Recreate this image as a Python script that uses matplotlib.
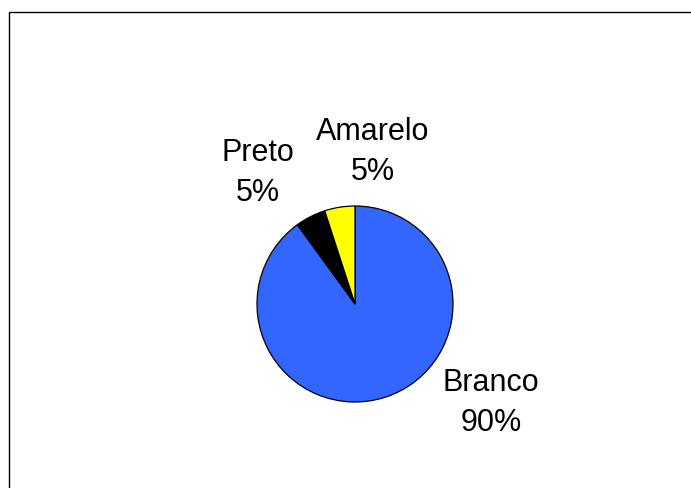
import matplotlib
matplotlib.use('Agg')
import matplotlib.pyplot as plt
from matplotlib.patches import Rectangle

plt.rcParams['font.family'] = ['Liberation Sans', 'DejaVu Sans']

# share of each group
labels = ['Branco', 'Preto', 'Amarelo']
values = [90, 5, 5]
colors = ['#3366FF', '#000000', '#FFFF00']
# where each label sits, in pie radius units
label_pos = [(1.39, -1.0), (-0.99, 1.35), (0.18, 1.56)]

W, H = 691, 489
fig = plt.figure(figsize=(W / 100, H / 100), dpi=100)

# chart frame (left and top edges show, the rest runs off the image)
fig.patches.append(Rectangle((9 / W, -0.1), 1.2, (H - 13) / H + 0.1,
                             transform=fig.transFigure, fill=False,
                             edgecolor='black', linewidth=1.0))

cx, cy, r = 355, 305, 98
ax = fig.add_axes([(cx - r) / W, (H - cy - r) / H, 2 * r / W, 2 * r / H])
ax.pie(values, colors=colors, startangle=90, counterclock=False, radius=1,
       wedgeprops=dict(edgecolor='black', linewidth=0.9))
ax.set_xlim(-1, 1)
ax.set_ylim(-1, 1)
ax.set_aspect('equal')
ax.axis('off')

for lab, v, (x, y) in zip(labels, values, label_pos):
    ax.text(x, y, '%s\n%d%%' % (lab, v), ha='center', va='center',
            fontsize=22, linespacing=1.45, clip_on=False)

fig.savefig('out.png', dpi=100)
